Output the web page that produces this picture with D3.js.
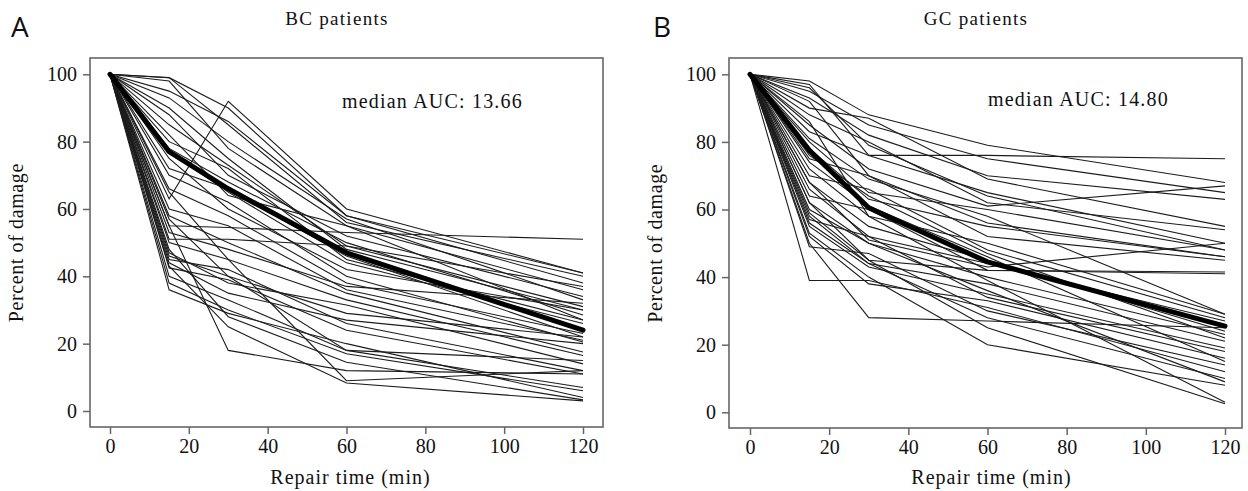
<!DOCTYPE html>
<html><head><meta charset="utf-8">
<script src="https://cdn.jsdelivr.net/npm/d3@7"></script>
<style>
html,body{margin:0;padding:0;background:#fff;}
svg text{font-family:"Liberation Serif",serif;fill:#111;}
</style></head>
<body><svg id="c" width="1248" height="491"></svg>
<script>
// Repair times (min)
const times = [0, 15, 30, 60, 120];
const xTicks = [0, 20, 40, 60, 80, 100, 120];
const yTicks = [0, 20, 40, 60, 80, 100];

// BC patients: percent of damage at 15, 30, 60, 120 min (100 at 0 min)
const bcLines = [
  [99, 90, 58, 41], [99, 85, 56, 40], [98, 78, 55, 36], [95, 86, 58, 38],
  [93, 80, 57, 33], [63, 92, 60, 41], [90, 75, 48, 30], [88, 70, 52, 34],
  [85, 73, 49, 31], [80, 72, 45, 27], [78, 68, 50, 28.5], [77, 65, 44, 26],
  [75, 60, 42, 30], [72, 66, 46, 22], [70, 62, 40, 20.5], [66, 58, 38, 23],
  [60, 55, 36, 21], [58, 50, 35, 17.5], [55, 54.5, 53, 51], [53, 48, 37, 32],
  [51, 51, 49, 37], [50, 45, 33, 16.5], [47, 38, 31.5, 14], [46, 40, 29, 22],
  [45, 42, 26, 12], [44, 35, 27, 20], [42.5, 39, 24, 11], [40, 33, 18, 7],
  [38, 30, 17, 6], [36, 29, 20, 4], [55, 18, 12, 11], [48, 28, 14.5, 3.3],
  [43, 25, 8.3, 3], [65, 45, 9, 12], [57, 40, 18, 15], [82, 64, 55, 27]
];
const bcMedian = [100, 77, 66, 47, 24];

// GC patients
const gcLines = [
  [98, 88, 79, 68], [97, 76, 76, 75], [95, 85, 75, 65], [93, 82, 70, 63],
  [90, 87, 69, 55], [88, 80, 62, 54], [85, 72, 61, 67], [83, 76, 65, 50],
  [80, 65, 60, 48], [78, 63, 55, 46], [75, 70, 52, 45], [72, 58, 50, 29],
  [70, 66, 48, 28], [68, 55, 45, 24], [66, 52, 44, 27], [64, 60, 42, 41],
  [62, 45, 42, 41.5], [60, 50, 40, 23], [58, 44, 38, 21], [55, 43, 35, 19],
  [52, 38, 33, 16], [50, 28, 27, 25], [49, 47, 30, 14], [39, 39, 31, 12],
  [56, 44, 28, 10], [53, 40, 20, 8], [62, 50, 36, 9], [74, 61, 46, 15],
  [86, 58, 39, 3], [59, 45, 25, 2.5], [68, 51, 43, 50], [92, 70, 56, 46],
  [81, 69, 58, 29], [76, 64, 47, 22], [57, 52, 34, 18], [96, 79, 64, 48]
];
const gcMedian = [100, 77.5, 60.5, 44.5, 25.5];

const panels = [
  {letter: "A", title: "BC patients", auc: "median AUC: 13.66", lines: bcLines, median: bcMedian,
   frame: [90, 603, 58, 427], xr: [110, 583], yr: [411, 74.3], letterX: 11, titleX: 337, aucX: 342, aucY: 108},
  {letter: "B", title: "GC patients", auc: "median AUC: 14.80", lines: gcLines, median: gcMedian,
   frame: [729, 1242, 58, 428], xr: [750, 1225], yr: [412.3, 74.3], letterX: 653, titleX: 976, aucX: 988, aucY: 106}
];

const svg = d3.select("#c");
const axisColor = "#666";

panels.forEach(p => {
  const g = svg.append("g");
  const x = d3.scaleLinear().domain([0, 120]).range(p.xr);
  const y = d3.scaleLinear().domain([0, 100]).range(p.yr);
  const [L, R, T, B] = p.frame;

  const line = d3.line().x((d, i) => x(times[i])).y(d => y(d));
  p.lines.forEach(v => {
    g.append("path").datum([100].concat(v)).attr("d", line)
      .attr("fill", "none").attr("stroke", "#1c1c1c").attr("stroke-width", 1.1);
  });
  g.append("path").datum(p.median).attr("d", line)
    .attr("fill", "none").attr("stroke", "#000").attr("stroke-width", 5)
    .attr("stroke-linecap", "round").attr("stroke-linejoin", "round");

  g.append("rect").attr("x", L).attr("y", T).attr("width", R - L).attr("height", B - T)
    .attr("fill", "none").attr("stroke", axisColor).attr("stroke-width", 1.6);

  const xa = g.append("g").attr("transform", `translate(0,${B})`)
    .call(d3.axisBottom(x).tickValues(xTicks).tickSize(7).tickPadding(5).tickFormat(d3.format("d")));
  xa.select(".domain").remove();
  xa.selectAll("line").attr("stroke", axisColor).attr("stroke-width", 1.5);
  xa.selectAll("text").style("font-size", "20px").attr("fill", "#111");

  const ya = g.append("g").attr("transform", `translate(${L},0)`)
    .call(d3.axisLeft(y).tickValues(yTicks).tickSize(7).tickPadding(6).tickFormat(d3.format("d")));
  ya.select(".domain").remove();
  ya.selectAll("line").attr("stroke", axisColor).attr("stroke-width", 1.5);
  ya.selectAll("text").style("font-size", "20px").attr("fill", "#111");

  g.append("text").attr("x", (p.xr[0] + p.xr[1]) / 2 + 4).attr("y", 484).attr("text-anchor", "middle")
    .style("font-size", "20px").style("letter-spacing", "1px").text("Repair time (min)");
  g.append("text").attr("transform", `translate(${L - 67},${(p.yr[0] + p.yr[1]) / 2}) rotate(-90)`)
    .attr("text-anchor", "middle").style("font-size", "20px").style("letter-spacing", "0.6px").text("Percent of damage");
  g.append("text").attr("x", p.titleX).attr("y", 25).attr("text-anchor", "middle")
    .style("font-size", "19px").style("letter-spacing", "1.3px").text(p.title);
  g.append("text").attr("x", p.aucX).attr("y", p.aucY)
    .style("font-size", "20px").style("letter-spacing", "1.2px").text(p.auc);
  g.append("text").attr("x", p.letterX).attr("y", 37)
    .style("font-family", "'Open Sans',sans-serif").style("font-size", "28px").text(p.letter);
});
</script></body></html>
